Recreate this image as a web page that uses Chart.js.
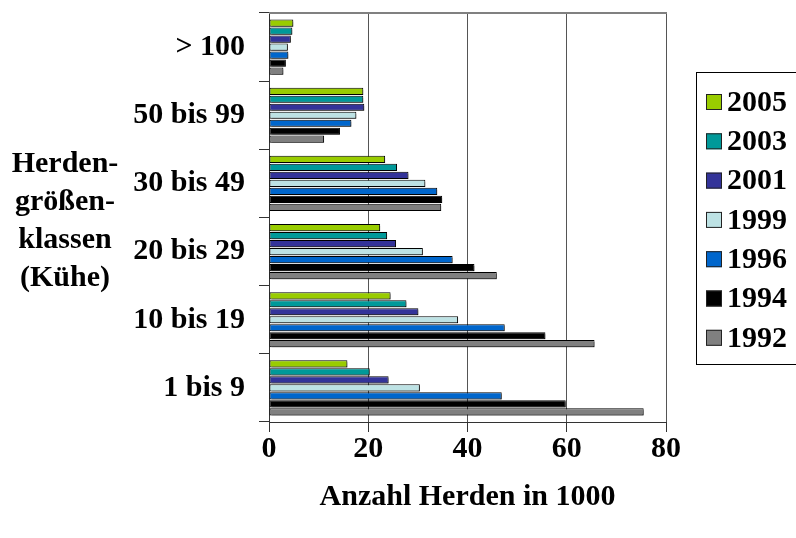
<!DOCTYPE html>
<html>
<head>
<meta charset="utf-8">
<script src="https://cdn.jsdelivr.net/npm/chart.js@4/dist/chart.umd.min.js"></script>
<style>
html,body{margin:0;padding:0;background:#fff;}
#wrap{width:796px;height:538px;position:relative;}
</style>
</head>
<body>
<div id="wrap"><canvas id="c" width="796" height="538"></canvas></div>
<script>
const categories = ['> 100', '50 bis 99', '30 bis 49', '20 bis 29', '10 bis 19', '1 bis 9'];
const years = ['2005', '2003', '2001', '1999', '1996', '1994', '1992'];
const v2005 = [4.9, 19.0, 23.4, 22.4, 24.5, 15.8];
const v2003 = [4.7, 19.0, 25.8, 23.8, 27.7, 20.3];
const v2001 = [4.4, 19.2, 28.1, 25.6, 30.1, 24.1];
const v1999 = [3.8, 17.6, 31.5, 31.0, 38.1, 30.4];
const v1996 = [3.9, 16.6, 33.9, 37.0, 47.5, 46.9];
const v1994 = [3.4, 14.3, 34.9, 41.4, 55.7, 59.8];
const v1992 = [2.9, 11.1, 34.7, 45.9, 65.6, 75.5];
const xMin = 0, xMax = 80, xStep = 20;
const xTitle = 'Anzahl Herden in 1000';
const yTitleLines = ['Herden-', 'größen-', 'klassen', '(Kühe)'];

const colors = ['#99CC00', '#009999', '#333399', '#BDE2E4', '#0066CC', '#000000', '#808080'];
const seriesValues = [v2005, v2003, v2001, v1999, v1996, v1994, v1992];
const FONT = 'Liberation Serif, Times New Roman, serif';

const datasets = years.map((y, i) => ({
  label: y,
  data: seriesValues[i],
  backgroundColor: colors[i],
  borderColor: '#000',
  borderWidth: 1,
  borderSkipped: false,
  categoryPercentage: 0.82,
  barPercentage: 0.9
}));

const shadowPlugin = {
  id: 'shadow',
  beforeDatasetsDraw(chart) {
    const ctx = chart.ctx;
    ctx.save();
    ctx.shadowColor = 'rgba(0,0,0,0.35)';
    ctx.shadowOffsetX = 2;
    ctx.shadowOffsetY = 2;
    ctx.shadowBlur = 0;
  },
  afterDatasetsDraw(chart) {
    chart.ctx.restore();
  }
};

const decorPlugin = {
  id: 'decor',
  afterDraw(chart) {
    const ctx = chart.ctx;
    const a = chart.chartArea;
    ctx.save();
    ctx.strokeStyle = '#808080';
    ctx.lineWidth = 2;
    ctx.beginPath();
    ctx.moveTo(a.left, a.top);
    ctx.lineTo(a.right + 1, a.top);
    ctx.stroke();
    ctx.fillStyle = '#000';
    ctx.font = 'bold 30px ' + FONT;
    ctx.textAlign = 'center';
    ctx.textBaseline = 'middle';
    yTitleLines.forEach((t, i) => ctx.fillText(t, 65, 164 + i * 38));
    const lx = 696, ly = 72, lh = 292;
    ctx.strokeStyle = '#000';
    ctx.lineWidth = 1;
    ctx.strokeRect(lx + 0.5, ly + 0.5, 120, lh);
    ctx.textAlign = 'left';
    chart.data.datasets.forEach((ds, i) => {
      const cy = 102 + i * 39.3;
      ctx.fillStyle = ds.backgroundColor;
      ctx.fillRect(706, cy - 8, 16, 16);
      ctx.strokeStyle = '#222';
      ctx.strokeRect(706.5, cy - 7.5, 15, 15);
      ctx.fillStyle = '#000';
      ctx.fillText(ds.label, 727, cy + 1);
    });
    ctx.restore();
  }
};

new Chart(document.getElementById('c'), {
  type: 'bar',
  data: { labels: categories, datasets },
  plugins: [shadowPlugin, decorPlugin],
  options: {
    indexAxis: 'y',
    responsive: false,
    animation: false,
    layout: { padding: { top: 13, right: 130, left: 0, bottom: 0 } },
    plugins: { legend: { display: false }, tooltip: { enabled: false } },
    scales: {
      x: {
        min: xMin, max: xMax,
        ticks: { stepSize: xStep, color: '#000', font: { family: FONT, size: 30, weight: 'bold' }, padding: -1 },
        grid: { color: '#555', lineWidth: 1, tickLength: 10, tickColor: '#333' },
        border: { color: '#333', width: 1 },
        title: { display: true, text: xTitle, color: '#000', font: { family: FONT, size: 30, weight: 'bold' }, padding: { top: 0, bottom: 23 } },
        afterFit(s) { s.height = 116; s.paddingLeft = 0; s.paddingRight = 0; }
      },
      y: {
        ticks: { color: '#000', font: { family: FONT, size: 30, weight: 'bold' }, padding: 14 },
        grid: { offset: true, drawOnChartArea: false, tickLength: 10, color: '#333' },
        border: { color: '#333', width: 1 },
        afterFit(s) { s.width = 269; s.paddingTop = 0; s.paddingBottom = 0; }
      }
    }
  }
});
</script>
</body>
</html>
